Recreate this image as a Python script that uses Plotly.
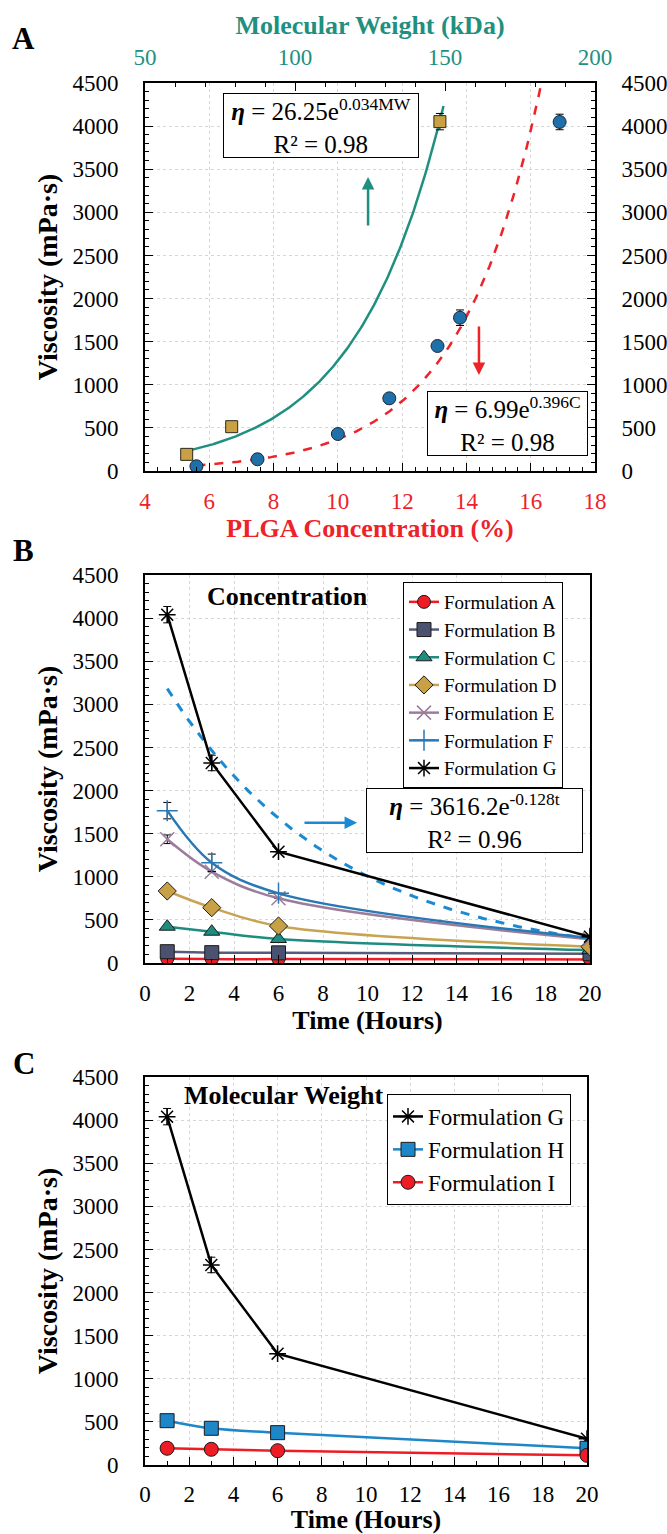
import numpy as np
import plotly.graph_objects as go

# ---------------- DATA ----------------
# Panel A: viscosity vs PLGA concentration (%)
conc_pct = [5.6, 7.5, 10.0, 11.6, 13.1, 13.8, 16.9]
conc_visc = [55, 136, 429, 843, 1450, 1778, 4048]
conc_err = [0, 0, 0, 0, 0, 90, 90]
# Panel A: viscosity vs molecular weight (kDa)
mw_kda = [63.9, 78.9, 148.3]
mw_visc = [193, 514, 4052]
mw_err = [0, 0, 95]
# Fitted trend lines (coefficients from the equations shown)
fit_conc = {"a": 6.99, "b": 0.396, "lo": 5.6, "hi": 16.33}
fit_mw = {"a": 26.25, "b": 0.034, "lo": 63.9, "hi": 149.5}
fit_time = {"a": 3616.2, "b": -0.128, "lo": 1, "hi": 20}

# Panel B / C: viscosity over time
time_h = [1, 3, 6, 20]
form_A = [50, 45, 45, 42]
form_B = [131, 120, 118, 108]
form_C = [421, 363, 278, 150]
form_D = [835, 642, 429, 189]
form_E = [1435, 1059, 750, 275]
form_F = [1767, 1163, 808, 290]
form_G = [4040, 2320, 1291, 305]
err_E = [50, 0, 0, 0]
err_F = [95, 100, 0, 0]
err_G = [95, 90, 0, 0]
form_H = [514, 426, 375, 194]
form_I = [194, 182, 166, 112]

y_ticks = [0, 500, 1000, 1500, 2000, 2500, 3000, 3500, 4000, 4500]

# ---------------- STYLE ----------------
W, H = 667, 1534
FONT = "Liberation Serif, Times New Roman, Times, serif"
TEAL = "#1f9080"
RED = "#ee2229"
BLUE_DOT = "#1f6fa8"
GOLD = "#c9a043"


def px(x):
    return x / W


def py(y):
    return 1 - y / H


fig = go.Figure()

# ---------------- PANEL A ----------------
cx = np.linspace(fit_conc["lo"], fit_conc["hi"], 200)
fig.add_trace(go.Scatter(x=cx, y=fit_conc["a"] * np.exp(fit_conc["b"] * cx), mode="lines",
                         line=dict(color=RED, width=2.5, dash="dash"), showlegend=False,
                         xaxis="x", yaxis="y"))
mx = np.linspace(fit_mw["lo"], fit_mw["hi"], 200)
fig.add_trace(go.Scatter(x=mx, y=fit_mw["a"] * np.exp(fit_mw["b"] * mx), mode="lines",
                         line=dict(color=TEAL, width=2.5), showlegend=False,
                         xaxis="x2", yaxis="y"))
# concentration points drawn against the (identical) right-hand axis so it is rendered
fig.add_trace(go.Scatter(x=conc_pct, y=conc_visc, mode="markers",
                         marker=dict(symbol="circle", size=13, color=BLUE_DOT,
                                     line=dict(color="#1a2a3a", width=1)),
                         error_y=dict(type="data", array=conc_err, color="black", thickness=1, width=4),
                         showlegend=False, xaxis="x", yaxis="y2"))
fig.add_trace(go.Scatter(x=mw_kda, y=mw_visc, mode="markers",
                         marker=dict(symbol="square", size=12, color=GOLD,
                                     line=dict(color="#2a2a1a", width=1)),
                         error_y=dict(type="data", array=mw_err, color="black", thickness=1, width=4),
                         showlegend=False, xaxis="x2", yaxis="y"))

# ---------------- PANEL B ----------------
tx = np.linspace(fit_time["lo"], fit_time["hi"], 200)
fig.add_trace(go.Scatter(x=tx, y=fit_time["a"] * np.exp(fit_time["b"] * tx), mode="lines",
                         line=dict(color="#1b8ad3", width=3, dash="dash"), showlegend=False,
                         xaxis="x3", yaxis="y3"))

series_B = [
    ("Formulation A", form_A, None, "#ee1c25", "circle", "#ee1c25", 13, "spline"),
    ("Formulation B", form_B, None, "#565c78", "square", "#4a5270", 14, "spline"),
    ("Formulation C", form_C, None, "#1e8c7e", "triangle-up", "#1e8c7e", 14, "spline"),
    ("Formulation D", form_D, None, "#c8a452", "diamond", "#c8a046", 14, "spline"),
    ("Formulation E", form_E, err_E, "#9b7d9b", "x-thin", "#9b7d9b", 14, "spline"),
    ("Formulation F", form_F, err_F, "#2878b4", "cross-thin", "#2878b4", 15, "spline"),
    ("Formulation G", form_G, err_G, "black", "asterisk", "black", 14, "linear"),
]
for name, vals, err, lc, sym, mc, ms, shape in series_B:
    thin = sym in ("x-thin", "cross-thin", "asterisk")
    mk = dict(symbol=sym + ("-open" if thin else ""), size=ms, color=mc,
              line=dict(color=mc if thin else "#1a1a1a", width=1.5 if thin else 1))
    fig.add_trace(go.Scatter(x=time_h, y=vals, name=name, mode="lines+markers",
                             line=dict(color=lc, width=2.5, shape=shape),
                             marker=mk,
                             error_y=(dict(type="data", array=err, color="black", thickness=1, width=4)
                                      if err else None),
                             legend="legend", xaxis="x3", yaxis="y3"))

# ---------------- PANEL C ----------------
series_C = [
    ("Formulation G", form_G, err_G, "black", "asterisk-open", "black", 14, "linear"),
    ("Formulation H", form_H, None, "#1e87c8", "square", "#1e87c8", 14, "spline"),
    ("Formulation I", form_I, None, "#ee1c25", "circle", "#ee1c25", 14, "spline"),
]
for name, vals, err, lc, sym, mc, ms, shape in series_C:
    thin = sym == "asterisk-open"
    mk = dict(symbol=sym, size=ms, color=mc,
              line=dict(color=mc if thin else "#1a1a1a", width=1.5 if thin else 1))
    fig.add_trace(go.Scatter(x=time_h, y=vals, name=name, mode="lines+markers",
                             line=dict(color=lc, width=2.5, shape=shape),
                             marker=mk,
                             error_y=(dict(type="data", array=err, color="black", thickness=1, width=4)
                                      if err else None),
                             legend="legend2", xaxis="x4", yaxis="y4"))

# ---------------- AXES ----------------
tickfont = dict(family=FONT, size=23, color="black")
base = dict(showline=True, linecolor="black", linewidth=2, ticks="inside", ticklen=8,
            tickwidth=1.3, tickcolor="black", zeroline=False, tickfont=tickfont,
            automargin=False,
            gridcolor="#d6d6d6", griddash="dot", gridwidth=1)
minor_y = dict(dtick=100, ticks="inside", ticklen=4, tickcolor="black", showgrid=False)

domA = [py(471), py(83)]
domB = [py(963), py(575)]
domC = [py(1465), py(1077)]

yaxis_common = dict(base, range=[0, 4500], tickvals=y_ticks, minor=minor_y, showgrid=True,
                    ticklabelstandoff=20)
x_std = 8

title_font = dict(family=FONT, size=26, color="black")
ytitle = dict(text="<b>Viscosity (mPa·s)</b>", font=dict(family=FONT, size=28, color="black"), standoff=7)

fig.update_layout(
    template="none",
    width=W, height=H, margin=dict(l=0, r=0, t=0, b=0),
    paper_bgcolor="white", plot_bgcolor="white",
    font=dict(family=FONT, size=23, color="black"),
    # Panel A
    xaxis=dict(base, domain=[px(145), px(595)], range=[4, 18], dtick=2, anchor="y",
               showgrid=True, tickfont=dict(family=FONT, size=23, color=RED), ticklabelstandoff=x_std,
               minor=dict(dtick=0.4, ticks="inside", ticklen=4, tickcolor="black", showgrid=False),
               title=dict(text="<b>PLGA Concentration (%)</b>", font=dict(family=FONT, size=26, color=RED),
                          standoff=3)),
    xaxis2=dict(base, overlaying="x", side="top", range=[50, 200], dtick=50, anchor="y",
                showgrid=False, tickfont=dict(family=FONT, size=23, color=TEAL), ticklabelstandoff=7,
                minor=dict(dtick=10, ticks="inside", ticklen=4, tickcolor="black", showgrid=False),
                title=dict(text="<b>Molecular Weight (kDa)</b>", font=dict(family=FONT, size=26, color=TEAL),
                           standoff=3)),
    yaxis=dict(yaxis_common, domain=domA, anchor="x", title=ytitle),
    yaxis2=dict(yaxis_common, overlaying="y", side="right", anchor="x", showgrid=False),
    # Panel B
    xaxis3=dict(base, domain=[px(145), px(590)], range=[0, 20], dtick=2, anchor="y3",
                mirror=True, showgrid=True, ticklabelstandoff=x_std,
                minor=dict(dtick=1, ticks="inside", ticklen=4, tickcolor="black", showgrid=False),
                title=dict(text="<b>Time (Hours)</b>", font=title_font, standoff=3)),
    yaxis3=dict(yaxis_common, domain=domB, anchor="x3", mirror=True, title=ytitle),
    # Panel C
    xaxis4=dict(base, domain=[px(145), px(587)], range=[0, 20], dtick=2, anchor="y4",
                mirror=True, showgrid=True, ticklabelstandoff=7,
                minor=dict(dtick=1, ticks="inside", ticklen=4, tickcolor="black", showgrid=False),
                title=dict(text="<b>Time (Hours)</b>", font=title_font, standoff=3)),
    yaxis4=dict(yaxis_common, domain=domC, anchor="x4", mirror=True, title=ytitle),
    legend=dict(x=px(403), y=py(582), xanchor="left", yanchor="top",
                bgcolor="white", bordercolor="black", borderwidth=1,
                font=dict(family=FONT, size=19, color="black"), itemwidth=30,
                tracegroupgap=0),
    legend2=dict(x=px(387), y=py(1094), xanchor="left", yanchor="top",
                 bgcolor="white", bordercolor="black", borderwidth=1,
                 font=dict(family=FONT, size=23, color="black"), itemwidth=30),
)

# ---------------- ANNOTATIONS ----------------
eq_font = dict(family=FONT, size=25, color="black")
ann = []
for lbl, yy in (("A", 38), ("B", 550), ("C", 1063)):
    ann.append(dict(text=f"<b>{lbl}</b>", x=px(24), y=py(yy), xref="paper", yref="paper",
                    xanchor="center", yanchor="middle",
                    showarrow=False, font=dict(family=FONT, size=31, color="black")))

box = dict(xref="paper", yref="paper", showarrow=False, xanchor="center", yanchor="middle",
           font=eq_font, bordercolor="black", borderwidth=1, bgcolor="white",
           height=63, borderpad=0, align="center")
ann.append(dict(box, text="<b><i>η</i></b> = 26.25e<sup>0.034MW</sup><br>R² = 0.98",
                x=px(321), y=py(125.5), width=194))
ann.append(dict(box, text="<b><i>η</i></b> = 6.99e<sup>0.396C</sup><br>R² = 0.98",
                x=px(507.5), y=py(423.5), width=159))
ann.append(dict(box, text="<b><i>η</i></b> = 3616.2e<sup>-0.128t</sup><br>R² = 0.96",
                x=px(474.5), y=py(820.5), width=215))

# arrows
ann.append(dict(x=10.94, y=3410, ax=10.94, ay=2830, xref="x", yref="y", axref="x", ayref="y",
                text="", showarrow=True, arrowhead=2, arrowsize=1, arrowwidth=2.5, arrowcolor=TEAL))
ann.append(dict(x=14.39, y=1113, ax=14.39, ay=1693, xref="x", yref="y", axref="x", ayref="y",
                text="", showarrow=True, arrowhead=2, arrowsize=1, arrowwidth=2.5, arrowcolor=RED))
ann.append(dict(x=9.53, y=1627, ax=7.1, ay=1627, xref="x3", yref="y3", axref="x3", ayref="y3",
                text="", showarrow=True, arrowhead=2, arrowsize=1, arrowwidth=2.5, arrowcolor="#1b8ad3"))

ann.append(dict(text="<b>Concentration</b>", x=px(287), y=py(597), xref="paper", yref="paper",
                xanchor="center", yanchor="middle",
                showarrow=False, font=dict(family=FONT, size=26, color="black")))
ann.append(dict(text="<b>Molecular Weight</b>", x=px(283), y=py(1095), xref="paper", yref="paper",
                xanchor="center", yanchor="middle",
                showarrow=False, font=dict(family=FONT, size=26, color="black")))

fig.update_layout(annotations=ann)

fig.write_html("out.html", config={"displayModeBar": False},
               post_script="document.body.style.margin='0px';")
